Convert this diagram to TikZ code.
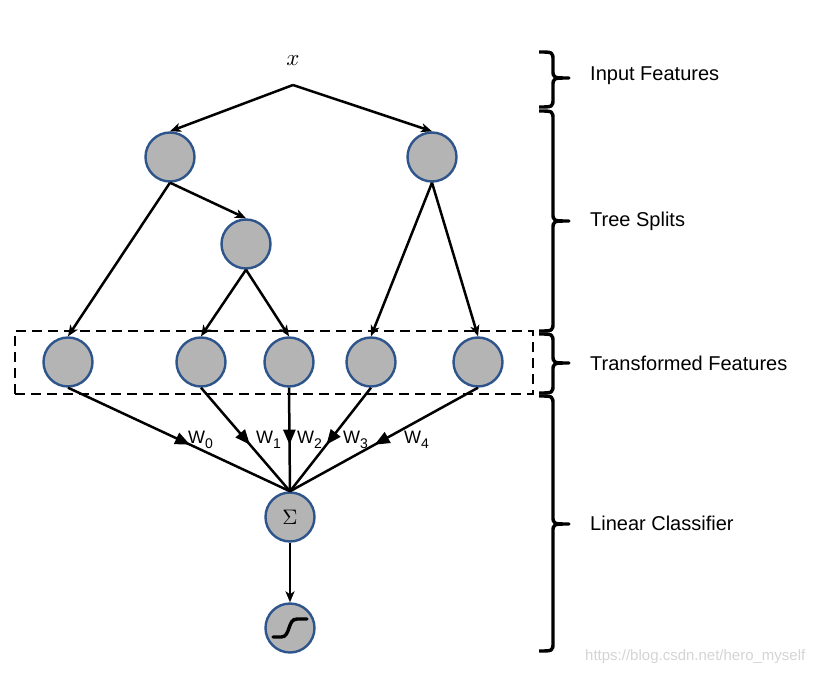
\documentclass[tikz,border=0pt]{standalone}
\usepackage{fontspec}
\setsansfont{Liberation Sans}
\usetikzlibrary{arrows.meta,decorations.markings}
\definecolor{nodefill}{RGB}{180,180,180}
\definecolor{nodeedge}{RGB}{46,84,140}
\newcommand\mybrace[3]{%
  \draw[sidebrace] (539,#1) .. controls (553,#1) .. (553,#1+9) -- (553,#2-8)
    .. controls (553,#2) .. (569,#2) .. controls (553,#2) .. (553,#2+8)
    -- (553,#3-9) .. controls (553,#3) .. (539,#3);}
\newcommand\wsub[2]{#1\raisebox{-5pt}{\fontsize{14}{15}\selectfont #2}}
\begin{document}
\begin{tikzpicture}[x=1pt,y=-1pt,
  unit/.style={circle,draw=nodeedge,fill=nodefill,line width=2.4pt,minimum size=49pt,inner sep=0pt},
  treearrow/.style={line width=2.5pt,-{Stealth[length=11pt,width=9pt,inset=3pt]}},
  weightline/.style={line width=2.5pt,postaction={decorate},
    decoration={markings,mark=at position #1 with {\arrow{Triangle[length=15pt,width=12pt]}}}},
  weightline/.default=0.55,
  wlabel/.style={anchor=west,inner sep=0pt,font=\sffamily\fontsize{18}{20}\selectfont},
  sidebrace/.style={line width=3.4pt,line join=round,line cap=butt},
  sidelabel/.style={anchor=west,inner sep=0pt,font=\sffamily\fontsize{20}{23}\selectfont}]
\path[use as bounding box] (0,0) rectangle (826,676);

% input
\node (xlab) at (293,61) {\scalebox{2.3}{$x$}};
\coordinate (apex) at (293,85);

% tree nodes
\node[unit] (A) at (170,157) {};
\node[unit] (B) at (432,157) {};
\node[unit] (C) at (246,244) {};

% leaves
\node[unit] (L0) at (68,362) {};
\node[unit] (L1) at (201,362) {};
\node[unit] (L2) at (289,362) {};
\node[unit] (L3) at (371,362) {};
\node[unit] (L4) at (478,362) {};

\node[draw,dashed,line width=2.4pt,dash pattern=on 10pt off 6pt,minimum width=518pt,minimum height=63pt,inner sep=0pt] (box) at (274,362.5) {};

% output nodes
\node[unit] (S) at (290,517) {\scalebox{2.1}{$\Sigma$}};
\node[unit] (G) at (290,628) {};
\draw[line width=3.4pt,line cap=round] (273,637) -- (281,637) .. controls (291,637) and (287,619) .. (297,619) -- (307,619);

% tree arrows
\draw[treearrow] (apex) -- (A.north);
\draw[treearrow] (apex) -- (B.north);
\draw[treearrow] (A.south) -- (C.north);
\draw[treearrow] (A.south) -- (L0.north);
\draw[treearrow] (C.south) -- (L1.north);
\draw[treearrow] (C.south) -- (L2.north);
\draw[treearrow] (B.south) -- (L3.north);
\draw[treearrow] (B.south) -- (L4.north);

% weighted connections
\draw[weightline=0.55] (L0.south) -- (S.north);
\draw[weightline=0.55] (L1.south) -- (S.north);
\draw[weightline=0.55] (L2.south) -- (S.north);
\draw[weightline=0.55] (L3.south) -- (S.north);
\draw[weightline=0.55] (L4.south) -- (S.north);
\draw[treearrow] (S.south) -- (G.north);

\node[wlabel] (w0) at (188,440) {\wsub{W}{0}};
\node[wlabel] (w1) at (256,440) {\wsub{W}{1}};
\node[wlabel] (w2) at (297,440) {\wsub{W}{2}};
\node[wlabel] (w3) at (343,440) {\wsub{W}{3}};
\node[wlabel] (w4) at (404,440) {\wsub{W}{4}};

% braces and labels
\mybrace{52}{78}{107}
\mybrace{111}{221}{331}
\mybrace{334}{363}{393}
\mybrace{396}{524}{651}
\node[sidelabel] (t1) at (590,76) {Input Features};
\node[sidelabel] (t2) at (590,221) {Tree Splits};
\node[sidelabel] (t3) at (590,363) {Transformed Features};
\node[sidelabel] (t4) at (590,523) {Linear Classifier};

\node[anchor=west,inner sep=0pt,text=black!17,font=\sffamily\fontsize{15}{18}\selectfont] (wm) at (585,657) {https://blog.csdn.net/hero\_myself};
\end{tikzpicture}
\end{document}
